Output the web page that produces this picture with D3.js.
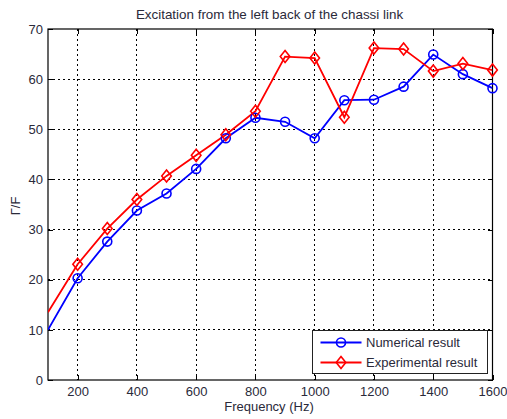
<!DOCTYPE html>
<html><head><meta charset="utf-8">
<script src="https://cdn.jsdelivr.net/npm/d3@7"></script>
<style>body{margin:0;background:#fff}svg{display:block}text{font-family:"Liberation Sans",Arial,sans-serif}</style>
</head><body><svg id="c" width="507" height="419"></svg>
<script>
const freqs = [100,200,300,400,500,600,700,800,900,1000,1100,1200,1300,1400,1500,1600];
const numerical = [10.0,20.3,27.6,33.8,37.2,42.1,48.2,52.3,51.5,48.2,55.8,55.9,58.5,64.9,61.0,58.2];
const experimental = [13.5,23.1,30.2,36.0,40.7,44.8,48.9,53.6,64.5,64.2,52.4,66.2,66.0,61.6,63.1,61.8];
const xTicks = [200,400,600,800,1000,1200,1400,1600];
const yTicks = [0,10,20,30,40,50,60,70];
const seriesNames = ["Numerical result","Experimental result"];
const title = "Excitation from the left back of the chassi link";
const xLabel = "Frequency (Hz)";
const yLabel = "Γ/F";

const svg = d3.select("#c");
const L=48, R=492.5, T=29, B=380;
const x = d3.scaleLinear().domain([100,1600]).range([L,R]);
const y = d3.scaleLinear().domain([0,70]).range([B,T]);
const textCol = "#2a2a3a";
const FS = "13px";

// grid
const g = svg.append("g");
g.selectAll(".gx").data(xTicks.filter(d=>d<1600)).join("line")
  .attr("x1",d=>x(d)).attr("x2",d=>x(d)).attr("y1",T).attr("y2",B)
  .attr("stroke","#000").attr("stroke-width",1).attr("stroke-dasharray","2,3").attr("shape-rendering","crispEdges");
g.selectAll(".gy").data(yTicks.filter(d=>d>0&&d<70)).join("line")
  .attr("y1",d=>y(d)).attr("y2",d=>y(d)).attr("x1",L).attr("x2",R)
  .attr("stroke","#000").attr("stroke-width",1).attr("stroke-dasharray","2,3").attr("shape-rendering","crispEdges");

// axes
const xa = svg.append("g").attr("transform",`translate(0,${B})`)
  .call(d3.axisBottom(x).tickValues(xTicks).tickSize(-5).tickPadding(7).tickFormat(d3.format("d")));
const xt = svg.append("g").attr("transform",`translate(0,${T})`)
  .call(d3.axisTop(x).tickValues(xTicks).tickSize(-5).tickFormat(""));
const ya = svg.append("g").attr("transform",`translate(${L},0)`)
  .call(d3.axisLeft(y).tickValues(yTicks).tickSize(-5).tickPadding(5));
const yr = svg.append("g").attr("transform",`translate(${R},0)`)
  .call(d3.axisRight(y).tickValues(yTicks).tickSize(-5).tickFormat(""));
[xa,xt,ya,yr].forEach(a=>{
  a.select(".domain").remove();
  a.selectAll("line").attr("stroke","#000").attr("shape-rendering","crispEdges");
  a.selectAll("text").attr("fill",textCol).style("font-size",FS).style("font-family","'Liberation Sans',Arial,sans-serif");
});
svg.append("rect").attr("x",L).attr("y",T).attr("width",R-L).attr("height",B-T)
  .attr("fill","none").attr("stroke","#000").attr("stroke-width",1.2);

// clip
svg.append("clipPath").attr("id","clip").append("rect").attr("x",L).attr("y",T).attr("width",R-L).attr("height",B-T);

const line = d3.line().x((d,i)=>x(freqs[i])).y(d=>y(d));
const plot = svg.append("g").attr("clip-path","url(#clip)");
plot.append("path").datum(numerical).attr("d",line).attr("fill","none").attr("stroke","#0000ff").attr("stroke-width",1.8);
plot.append("path").datum(experimental).attr("d",line).attr("fill","none").attr("stroke","#ff0000").attr("stroke-width",1.8);

const mk = svg.append("g");
mk.selectAll(".cb").data(numerical.slice(1)).join("circle")
  .attr("cx",(d,i)=>x(freqs[i+1])).attr("cy",d=>y(d)).attr("r",4.5)
  .attr("fill","none").attr("stroke","#0000ff").attr("stroke-width",1.6);
const diamond = (cx,cy,s)=>`M${cx},${cy-s}L${cx+s*0.8},${cy}L${cx},${cy+s}L${cx-s*0.8},${cy}Z`;
mk.selectAll(".dr").data(experimental.slice(1)).join("path")
  .attr("d",(d,i)=>diamond(x(freqs[i+1]),y(d),6))
  .attr("fill","none").attr("stroke","#ff0000").attr("stroke-width",1.6);

// title & labels
svg.append("text").attr("x",269.5).attr("y",19).attr("text-anchor","middle")
  .attr("fill",textCol).style("font-size","13.4px").text(title);
svg.append("text").attr("x",269).attr("y",411).attr("text-anchor","middle")
  .attr("fill",textCol).style("font-size",FS).text(xLabel);
svg.append("text").attr("transform",`translate(20,206) rotate(-90)`).attr("text-anchor","middle")
  .attr("fill",textCol).style("font-size",FS).text(yLabel);

// legend
const lg = svg.append("g");
lg.append("rect").attr("x",312.5).attr("y",330.5).attr("width",175).attr("height",43)
  .attr("fill","#fff").attr("stroke","#222").attr("stroke-width",1);
const cols = ["#0000ff","#ff0000"];
seriesNames.forEach((n,i)=>{
  const yy = 342.5 + i*20;
  lg.append("line").attr("x1",320.5).attr("x2",361.5).attr("y1",yy).attr("y2",yy)
    .attr("stroke",cols[i]).attr("stroke-width",1.8);
  if(i===0) lg.append("circle").attr("cx",341).attr("cy",yy).attr("r",4.5).attr("fill","none").attr("stroke",cols[i]).attr("stroke-width",1.6);
  else lg.append("path").attr("d",diamond(341,yy,6)).attr("fill","none").attr("stroke",cols[i]).attr("stroke-width",1.6);
  lg.append("text").attr("x",366).attr("y",yy+4.7).attr("fill",textCol).style("font-size",FS).text(n);
});
</script></body></html>
